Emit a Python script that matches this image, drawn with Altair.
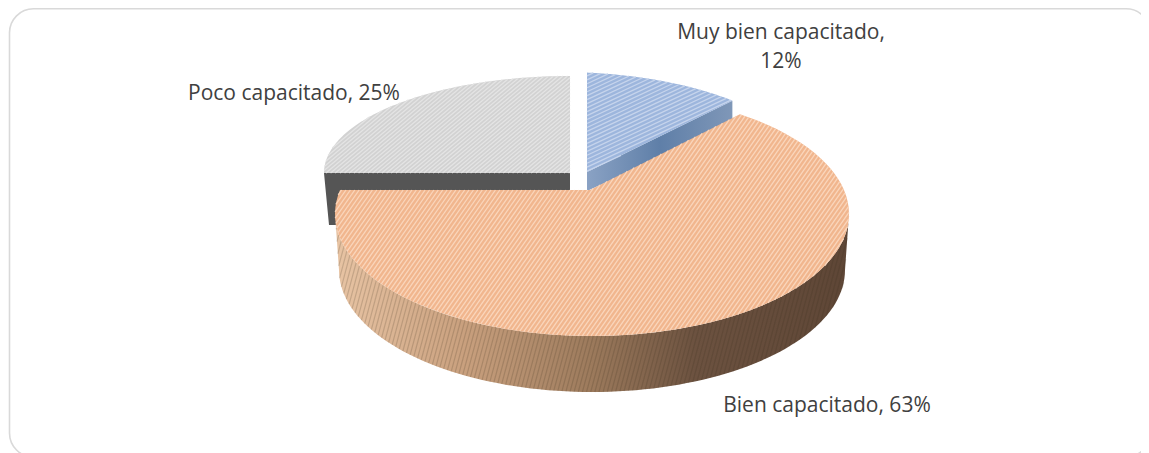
import math
import altair as alt
import pandas as pd

categories = ["Muy bien capacitado", "Bien capacitado", "Poco capacitado"]
shares = [12, 63, 25]

W, H = 1133, 445
OX, OY = 8, 8

# (apex x, apex y, ellipse centre x, centre y, rx, ry, ray rx)
geom = {
    "Muy bien capacitado": (587, 172, 560, 172, 246, 100, 217),
    "Bien capacitado": (590, 190, 592, 214, 257, 122, 257),
    "Poco capacitado": (570, 173, 570, 173, 246, 97, 246),
}
top_fill = {"Muy bien capacitado": "#9db6dd", "Bien capacitado": "#f1b68e", "Poco capacitado": "#d2d2d2"}
stripe_col = {"Muy bien capacitado": "#c6d4ec", "Bien capacitado": "#fad6bc", "Poco capacitado": "#e4e4e4"}
stripe_ang = {"Muy bien capacitado": 25, "Bien capacitado": 55, "Poco capacitado": 40}


def ray_param(g, theta):
    ax, ay, cx, cy, rx, ry, rr = g
    dx, dy = math.sin(theta) * rr, -math.cos(theta) * ry
    px, py = (ax - cx) / rx, (ay - cy) / ry
    qx, qy = dx / rx, dy / ry
    a = qx * qx + qy * qy
    b = 2 * (px * qx + py * qy)
    c = px * px + py * py - 1
    t = (-b + math.sqrt(b * b - 4 * a * c)) / (2 * a)
    return math.atan2((ax + dx * t - cx) / rx, -(ay + dy * t - cy) / ry)


def sector(name, start, end):
    g = geom[name]
    ax, ay, cx, cy, rx, ry, rr = g
    p0, p1 = ray_param(g, start), ray_param(g, end)
    while p1 <= p0:
        p1 += 2 * math.pi
    pts = [(ax, ay)]
    for i in range(91):
        p = p0 + (p1 - p0) * i / 90
        pts.append((cx + rx * math.sin(p), cy - ry * math.cos(p)))
    pts.append((ax, ay))
    return pts


def hatch(pts, angle, pitch):
    a = math.radians(angle)
    d = (math.cos(a), -math.sin(a))
    n = (math.sin(a), math.cos(a))
    ps = [p[0] * n[0] + p[1] * n[1] for p in pts]
    rows = []
    k = math.ceil(min(ps) / pitch)
    while k * pitch < max(ps):
        off = k * pitch + 0.01
        hits = []
        for i in range(len(pts) - 1):
            s0, s1 = ps[i] - off, ps[i + 1] - off
            if s0 * s1 < 0:
                t = s0 / (s0 - s1)
                hits.append((pts[i][0] + t * (pts[i + 1][0] - pts[i][0]), pts[i][1] + t * (pts[i + 1][1] - pts[i][1])))
        hits.sort(key=lambda h: h[0] * d[0] + h[1] * d[1])
        for j in range(0, len(hits) - 1, 2):
            rows.append({"x": hits[j][0], "y": hits[j][1], "x2": hits[j + 1][0], "y2": hits[j + 1][1]})
        k += 1
    return pd.DataFrame(rows)


def frame(pts):
    return pd.DataFrame({"x": [p[0] for p in pts], "y": [p[1] for p in pts], "o": range(len(pts))})


xs = alt.Scale(domain=[OX, OX + W], range=[0, W], nice=False, zero=False)
ys = alt.Scale(domain=[OY, OY + H], range=[0, H], nice=False, zero=False)
X = alt.X("x:Q", scale=xs, axis=None)
Y = alt.Y("y:Q", scale=ys, axis=None)


def grad(stops, x1=0, x2=1, y1=0, y2=0):
    return alt.LinearGradient(
        gradient="linear", x1=x1, x2=x2, y1=y1, y2=y2,
        stops=[alt.GradientStop(offset=o, color=c) for o, c in stops],
    )


def poly(pts, fill):
    return alt.Chart(frame(pts)).mark_line(fill=fill, interpolate="linear", stroke="transparent", strokeWidth=0).encode(
        x=X, y=Y, order="o:Q"
    )


def stripes(pts, angle, pitch, color, sw=1.3, opacity=1.0):
    return alt.Chart(hatch(pts, angle, pitch)).mark_rule(color=color, strokeWidth=sw, opacity=opacity).encode(
        x=X, y=Y, x2="x2:Q", y2="y2:Q"
    )


angles = {}
acc = 0.0
for n, s in zip(categories, shares):
    angles[n] = (acc * 2 * math.pi / 100, (acc + s) * 2 * math.pi / 100)
    acc += s

frame_df = pd.DataFrame({"x": [9.5], "x2": [1150], "y": [8.8], "y2": [457]})
border = alt.Chart(frame_df).mark_rect(
    cornerRadius=24, fill="white", stroke="#d9d9d9", strokeWidth=1.6
).encode(x=X, x2="x2:Q", y=Y, y2="y2:Q")

layers = [border]

# gray slice, cut face then top
g = geom["Poco capacitado"]
gray_face = [(g[0], g[1]), (324, g[1]), (329, 225), (345, 225), (345, 191), (g[0], 191)]
layers.append(poly(gray_face, "#555555"))
gray_top = sector("Poco capacitado", *angles["Poco capacitado"])
layers.append(poly(gray_top, top_fill["Poco capacitado"]))
layers.append(stripes(gray_top, stripe_ang["Poco capacitado"], 3.0, stripe_col["Poco capacitado"]))

# blue slice, cut face then top
g = geom["Muy bien capacitado"]
blue_top = sector("Muy bien capacitado", *angles["Muy bien capacitado"])
corner = blue_top[-2]
blue_face = [(g[0], g[1]), corner, (corner[0], corner[1] + 24), (g[0], g[1] + 19)]
layers.append(poly(blue_face, grad([(0, "#8aa2c4"), (0.5, "#5f7fa8"), (1, "#7f97b8")])))
layers.append(poly(blue_top, top_fill["Muy bien capacitado"]))
layers.append(stripes(blue_top, stripe_ang["Muy bien capacitado"], 3.6, stripe_col["Muy bien capacitado"]))

# orange slice, wall then top
g = geom["Bien capacitado"]
wall = []
for i in range(91):
    p = math.pi / 2 + math.pi * i / 90
    wall.append((g[2] + g[4] * math.sin(p), g[3] - g[5] * math.cos(p)))
for i in range(91):
    p = 3 * math.pi / 2 - math.pi * i / 90
    wall.append((g[2] + (g[4] - 4) * math.sin(p), g[3] + 56 - g[5] * math.cos(p)))
wall.append(wall[0])
layers.append(poly(wall, grad([(0, "#5e4636"), (0.3, "#6c5240"), (0.5, "#9c7a5c"), (0.75, "#c9a07e"), (1, "#e8c4a4")], x1=1, x2=0)))
layers.append(stripes(wall, 75, 4.0, "#3a2a1e", sw=1.2, opacity=0.18))
orange_top = sector("Bien capacitado", *angles["Bien capacitado"])
layers.append(poly(orange_top, top_fill["Bien capacitado"]))
layers.append(stripes(orange_top, stripe_ang["Bien capacitado"], 3.6, stripe_col["Bien capacitado"]))

labels = pd.DataFrame({
    "t": [f"{categories[0]},", f"{shares[0]}%", f"{categories[2]}, {shares[2]}%", f"{categories[1]}, {shares[1]}%"],
    "x": [781, 781, 294, 827],
    "y": [32.5, 61.5, 93.5, 405.5],
})
layers.append(
    alt.Chart(labels).mark_text(font="Open Sans", fontSize=21, color="#404040", align="center", baseline="middle").encode(
        x=X, y=Y, text="t:N"
    )
)

chart = alt.layer(*layers).properties(
    width=W, height=H, padding=0, autosize=alt.AutoSizeParams(type="none"), background="white"
).configure_view(stroke=None)
chart.save("out.html", embed_options={"renderer": "svg", "actions": False})
